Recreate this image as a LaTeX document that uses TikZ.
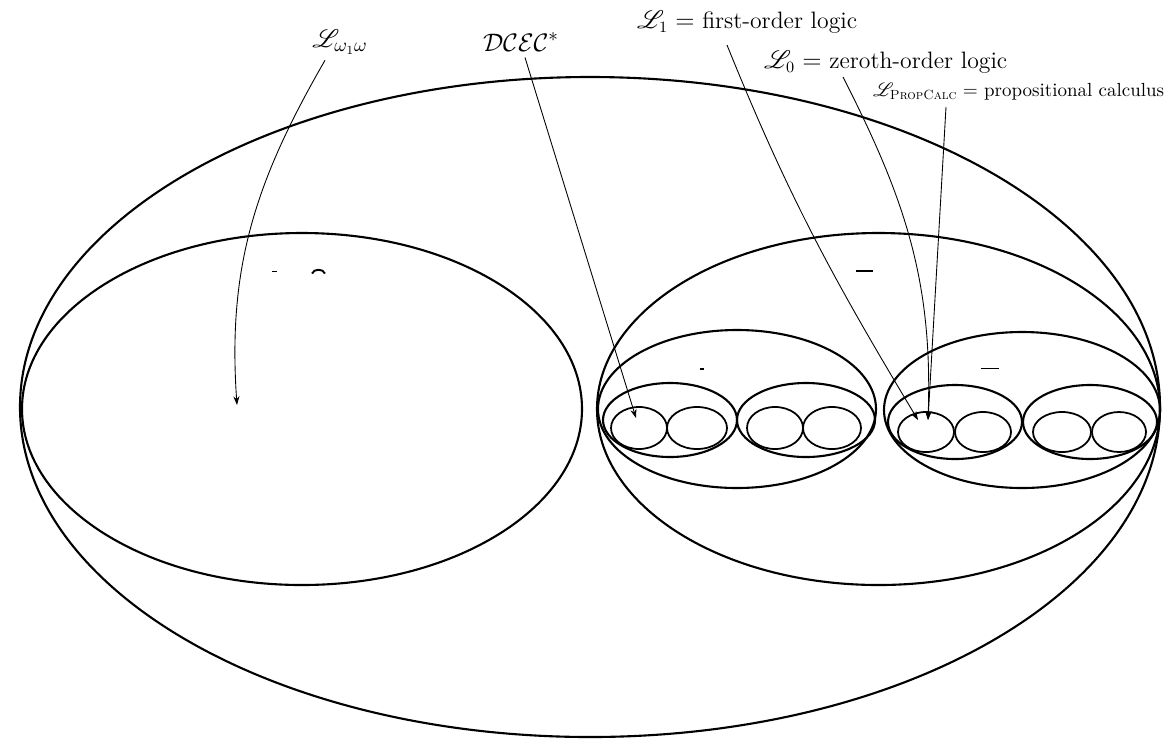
\documentclass[tikz,border=0pt]{standalone}
\usepackage{amsmath,amssymb}
\usepackage{mathrsfs}
\usepackage{tikz}
\usetikzlibrary{arrows.meta,calc}

\begin{document}
\begin{tikzpicture}[x=0.02cm,y=-0.02cm,
  ring/.style={line width=1.2pt},
  tiny/.style={line width=1pt},
  arr/.style={line width=0.5pt,-{Stealth[length=5pt,width=3.5pt]}},
  stub/.style={line width=1.1pt},
  every node/.style={font=\fontsize{13.5}{16}\selectfont,inner sep=1pt}]
  \useasboundingbox (0,0) rectangle (1176,738);
  % nested ellipses
  \draw[ring] (590,407) ellipse [x radius=570,y radius=330];
  \draw[ring] (302,409) ellipse [x radius=280,y radius=176];
  \draw[ring] (878.5,409) ellipse [x radius=281.5,y radius=176];
  \draw[ring] (737,409) ellipse [x radius=139,y radius=79];
  \draw[ring] (1022,410) ellipse [x radius=138,y radius=78];
  \draw[ring] (670,420) ellipse [x radius=67,y radius=37];
  \draw[ring] (806,420) ellipse [x radius=69,y radius=37];
  \draw[ring] (955,422) ellipse [x radius=67,y radius=37];
  \draw[ring] (1090,422) ellipse [x radius=67,y radius=37];
  \draw[tiny] (639,428) ellipse [x radius=28,y radius=21];
  \draw[tiny] (697,428) ellipse [x radius=30,y radius=21];
  \draw[tiny] (775,428) ellipse [x radius=28,y radius=21];
  \draw[tiny] (832,428) ellipse [x radius=29,y radius=21];
  \draw[tiny] (926,432) ellipse [x radius=28,y radius=20];
  \draw[tiny] (983,432) ellipse [x radius=28,y radius=20];
  \draw[tiny] (1062,432) ellipse [x radius=29,y radius=20];
  \draw[tiny] (1119,432) ellipse [x radius=27,y radius=20];
  % leftover marks
  \draw[stub] (272,271.5) -- (277,271.5);
  \draw[stub] (312,273.5) .. controls (314,268.5) and (323,268.5) .. (325,273.5);
  \draw[stub] (856,271) -- (873,271);
  \draw[stub] (699.5,369) -- (703.5,369);
  \draw[stub] (981,368.5) -- (999,368.5);
  % targets
  \coordinate (tinf) at (237,405);
  \coordinate (tdcec) at (636,418);
  \coordinate (tfol) at (918,420);
  \coordinate (tzol) at (928,420);
  % labels
  \node[font=\fontsize{15}{18}\selectfont] (lw) at (340,42) {$\mathscr{L}_{\omega_1\omega}$};
  \node[font=\fontsize{15.5}{18}\selectfont] (dcec) at (521,42) {$\mathcal{DCEC}^*$};
  \node[anchor=west] (lone) at (635,22) {$\mathscr{L}_1 =$ first-order logic};
  \node[anchor=west] (lzero) at (762,62) {$\mathscr{L}_0 =$ zeroth-order logic};
  \node[anchor=west,font=\fontsize{10.8}{13}\selectfont] (lpc) at (871,92)
    {$\mathscr{L}_{\text{\textsc{PropCalc}}} =$ propositional calculus};
  % arrows
  \draw[arr] ($(lw.south)+(-15,4)$) to[out=-120,in=94] (tinf);
  \draw[arr] ($(dcec.south)+(4,4)$) -- (tdcec);
  \draw[arr] ($(lone.west)+(92,23)$) to[out=-68,in=121] (tfol);
  \draw[arr] ($(lzero.west)+(81,15)$) to[out=-63,in=88] (tzol);
  \draw[arr] ($(lpc.west)+(75,15)$) -- (tzol);
\end{tikzpicture}
\end{document}
